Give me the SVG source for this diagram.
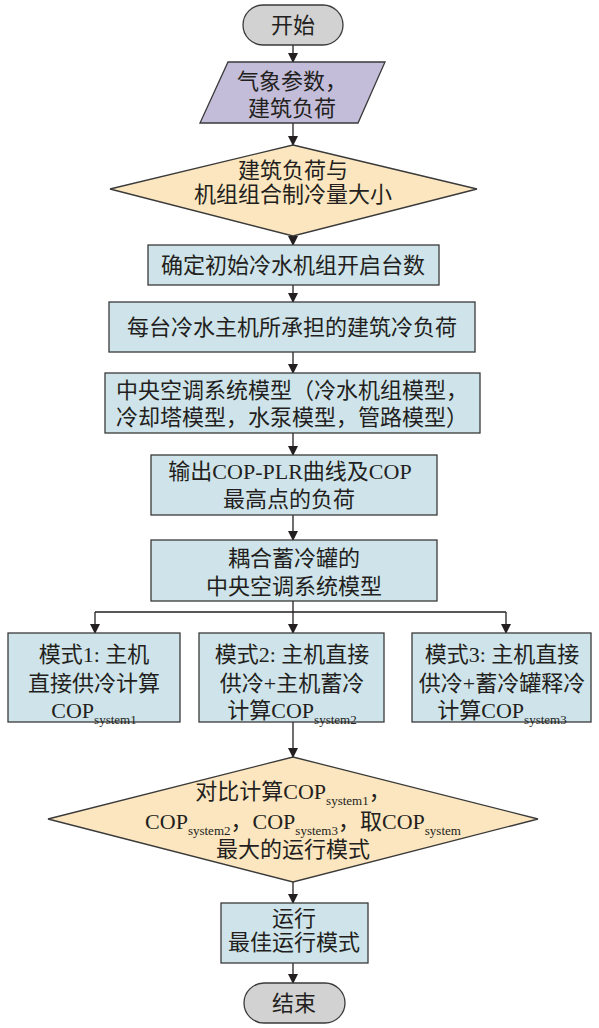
<svg xmlns="http://www.w3.org/2000/svg" width="599" height="1028" viewBox="0 0 599 1028">
<defs>
<marker id="ah" markerWidth="10" markerHeight="12" refX="9" refY="5" orient="auto" markerUnits="userSpaceOnUse">
<path d="M0,0 L10,5 L0,10 Z" fill="#231f20"/>
</marker>
<style>
.t{font-family:"Liberation Serif","Noto Sans CJK SC",serif;font-size:22px;fill:#231f20;text-anchor:middle}
.s{font-size:13px}
.term{fill:#d2d2d3;stroke:#3a3a3a;stroke-width:1.3}
.proc{fill:#cfe4ea;stroke:#3a3a3a;stroke-width:1.3}
.dec{fill:#fbe6bf;stroke:#3a3a3a;stroke-width:1.3}
.io{fill:#c4bdd9;stroke:#3a3a3a;stroke-width:1.3}
.c{fill:none;stroke:#231f20;stroke-width:1.3}
</style>
</defs>
<g id="connectors">
<line class="c" x1="293" y1="45" x2="293" y2="62" marker-end="url(#ah)"/>
<line class="c" x1="293" y1="123" x2="293" y2="145" marker-end="url(#ah)"/>
<line class="c" x1="293" y1="236" x2="293" y2="245" marker-end="url(#ah)"/>
<line class="c" x1="293" y1="285" x2="293" y2="302" marker-end="url(#ah)"/>
<line class="c" x1="293" y1="352" x2="293" y2="373" marker-end="url(#ah)"/>
<line class="c" x1="293" y1="433" x2="293" y2="455" marker-end="url(#ah)"/>
<line class="c" x1="293" y1="515" x2="293" y2="540" marker-end="url(#ah)"/>
<line class="c" x1="293" y1="601" x2="293" y2="633" marker-end="url(#ah)"/>
<polyline class="c" points="95,612 506,612"/>
<line class="c" x1="95" y1="612" x2="95" y2="633" marker-end="url(#ah)"/>
<line class="c" x1="506" y1="612" x2="506" y2="633" marker-end="url(#ah)"/>
<line class="c" x1="293" y1="722" x2="293" y2="757" marker-end="url(#ah)"/>
<line class="c" x1="293" y1="882" x2="293" y2="903" marker-end="url(#ah)"/>
<line class="c" x1="293" y1="963" x2="293" y2="983" marker-end="url(#ah)"/>
</g>
<g id="start">
<rect class="term" x="243" y="5" width="100" height="40" rx="20" ry="20"/>
<text class="t" x="293" y="33">开始</text>
</g>
<g id="input">
<polygon class="io" points="228,62 385,62 358,123 200,123"/>
<text class="t" x="292" y="89">气象参数，</text>
<text class="t" x="292" y="116">建筑负荷</text>
</g>
<g id="decision1">
<polygon class="dec" points="293,145 477,189 293,236 110,189"/>
<text class="t" x="293" y="178">建筑负荷与</text>
<text class="t" x="293" y="202">机组组合制冷量大小</text>
</g>
<g id="box1">
<rect class="proc" x="148" y="245" width="291" height="40"/>
<text class="t" x="293" y="273">确定初始冷水机组开启台数</text>
</g>
<g id="box2">
<rect class="proc" x="109" y="302" width="366" height="50"/>
<text class="t" x="292" y="335">每台冷水主机所承担的建筑冷负荷</text>
</g>
<g id="box3">
<rect class="proc" x="105" y="373" width="375" height="60"/>
<text class="t" x="292" y="398">中央空调系统模型（冷水机组模型，</text>
<text class="t" x="292" y="425">冷却塔模型，水泵模型，管路模型）</text>
</g>
<g id="box4">
<rect class="proc" x="151" y="455" width="286" height="60"/>
<text class="t" x="290" y="479">输出COP-PLR曲线及COP</text>
<text class="t" x="289" y="507">最高点的负荷</text>
</g>
<g id="box5">
<rect class="proc" x="151" y="540" width="286" height="61"/>
<text class="t" x="294" y="566">耦合蓄冷罐的</text>
<text class="t" x="294" y="594">中央空调系统模型</text>
</g>
<g id="mode1">
<rect class="proc" x="8" y="633" width="172" height="89"/>
<text class="t" x="94" y="662">模式1: 主机</text>
<text class="t" x="94" y="691">直接供冷计算</text>
<text class="t" x="94" y="718">COP<tspan class="s" dy="6">system1</tspan></text>
</g>
<g id="mode2">
<rect class="proc" x="199" y="633" width="185" height="89"/>
<text class="t" x="292" y="662">模式2: 主机直接</text>
<text class="t" x="292" y="691">供冷+主机蓄冷</text>
<text class="t" x="292" y="718">计算COP<tspan class="s" dy="6">system2</tspan></text>
</g>
<g id="mode3">
<rect class="proc" x="412" y="633" width="179" height="89"/>
<text class="t" x="502" y="662">模式3: 主机直接</text>
<text class="t" x="502" y="691">供冷+蓄冷罐释冷</text>
<text class="t" x="502" y="718">计算COP<tspan class="s" dy="6">system3</tspan></text>
</g>
<g id="decision2">
<polygon class="dec" points="293,757 538,819 293,882 48,819"/>
<text class="t" x="293" y="799">对比计算COP<tspan class="s" dy="6">system1</tspan><tspan dy="-6">，</tspan></text>
<text class="t" x="303" y="829">COP<tspan class="s" dy="6">system2</tspan><tspan dy="-6">，COP</tspan><tspan class="s" dy="6">system3</tspan><tspan dy="-6">，取COP</tspan><tspan class="s" dy="6">system</tspan></text>
<text class="t" x="293" y="857">最大的运行模式</text>
</g>
<g id="run">
<rect class="proc" x="221" y="903" width="147" height="60"/>
<text class="t" x="294" y="926">运行</text>
<text class="t" x="294" y="950">最佳运行模式</text>
</g>
<g id="end">
<rect class="term" x="244" y="983" width="101" height="40" rx="20" ry="20"/>
<text class="t" x="294" y="1011">结束</text>
</g>
</svg>
